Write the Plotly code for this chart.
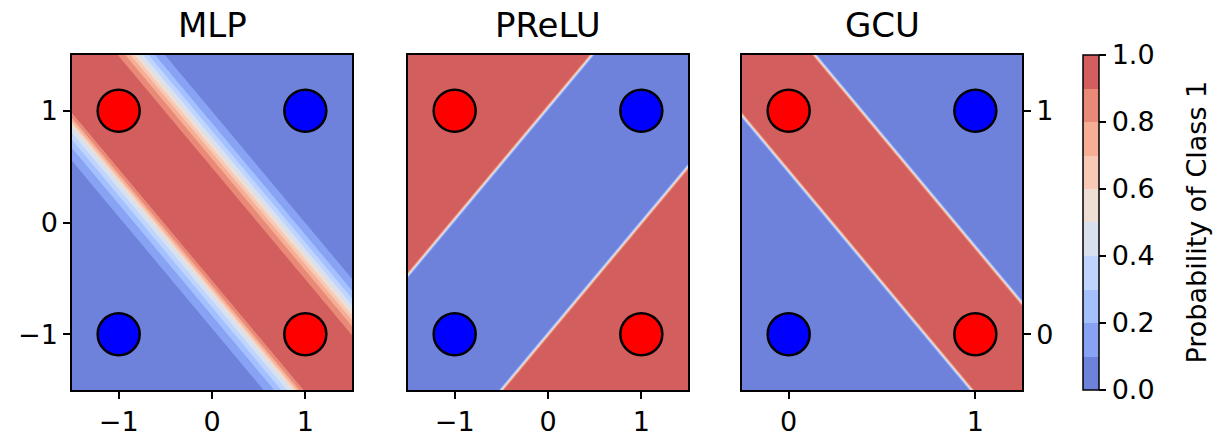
import numpy as np
import plotly.graph_objects as go

# ---------------- data ----------------
panel_titles = ["MLP", "PReLU", "GCU"]

# XOR points (symmetric inputs for MLP / PReLU, binary inputs for GCU)
pts_x_sym = [-1, 1, -1, 1]
pts_y_sym = [1, 1, -1, -1]
pts_x_bin = [0, 1, 0, 1]
pts_y_bin = [1, 1, 0, 0]
pts_class = [1, 0, 0, 1]
class_colors = {1: "#ff0000", 0: "#0000ff"}

# decision regions (edges of the class-1 regions)
mlp_band = [-0.64, 0.71]        # class 1 where x+y lies inside
mlp_soft_lower = [0.055, 0.14]  # (inside, outside) softness of lower edge
mlp_soft_upper = [0.10, 0.13]   # (inside, outside) softness of upper edge
prelu_edges = [1.03, -1.00]     # class 1 where y-x above first or below second
prelu_soft = 0.012
gcu_band = [0.73, 1.39]         # class 1 where x+y lies inside
gcu_soft = 0.006

axis_ranges = [[-1.5, 1.5], [-1.5, 1.5], [-0.25, 1.25]]
x_ticks = [[-1, 0, 1], [-1, 0, 1], [0, 1]]
y_ticks = [[-1, 0, 1], [], [0, 1]]

# coolwarm, 10 levels, alpha 0.8 over white
level_colors = ["#6e82db", "#88a3f3", "#a4c0fe", "#c0d5fd", "#d9e1ef",
                "#eeded4", "#f8cab5", "#f6ae95", "#e98a78", "#d25e5d"]
cbar_ticks = [0.0, 0.2, 0.4, 0.6, 0.8, 1.0]
cbar_title = "Probability of Class 1"

# ---------------- helpers ----------------
def sig(d, s_in, s_out):
    s = np.where(d > 0, s_in, s_out)
    return 1.0 / (1.0 + np.exp(-np.clip(d / s, -60, 60)))

def grid(r, n=301):
    g = np.linspace(r[0], r[1], n)
    X, Y = np.meshgrid(g, g)
    return g, X, Y

fields = []
g, X, Y = grid(axis_ranges[0])
u = X + Y
p_lo = sig(u - mlp_band[0], *mlp_soft_lower)
p_hi = sig(mlp_band[1] - u, *mlp_soft_upper)
fields.append((g, np.minimum(p_lo, p_hi)))
g, X, Y = grid(axis_ranges[1])
v = Y - X
fields.append((g, sig(np.maximum(v - prelu_edges[0], prelu_edges[1] - v), prelu_soft, prelu_soft)))
g, X, Y = grid(axis_ranges[2])
u = X + Y
fields.append((g, sig(np.minimum(u - gcu_band[0], gcu_band[1] - u), gcu_soft, gcu_soft)))

# colorscale for plotly contour fill (band k sampled at (k+1)/11)
cs_contour = [[0, level_colors[0]]]
for k, c in enumerate(level_colors):
    cs_contour.append([(k + 0.5) / 11, c])
    cs_contour.append([(k + 1.5) / 11 if k < 9 else 1.0, c])
cs_bar = []
for k, c in enumerate(level_colors):
    cs_bar.append([k / 10, c])
    cs_bar.append([(k + 1) / 10, c])

W, H = 1217, 437
x_dom = [[72 / W, 352 / W], [408 / W, 688 / W], [742 / W, 1022 / W]]
y_dom = [1 - 390 / H, 1 - 55 / H]
FONT = "DejaVu Sans"

fig = go.Figure()
for i in range(3):
    xa = "x" if i == 0 else f"x{i+1}"
    ya = "y" if i == 0 else f"y{i+1}"
    g, Z = fields[i]
    fig.add_trace(go.Contour(
        x=g, y=g, z=Z, xaxis=xa, yaxis=ya,
        autocontour=False,
        contours=dict(start=0, end=1, size=0.1, coloring="fill", showlines=False),
        line=dict(width=0),
        colorscale=cs_contour, showscale=False, hoverinfo="skip"))
    px = pts_x_bin if i == 2 else pts_x_sym
    py = pts_y_bin if i == 2 else pts_y_sym
    fig.add_trace(go.Scatter(
        x=px, y=py, xaxis=xa, yaxis=ya, mode="markers",
        marker=dict(size=42, color=[class_colors[c] for c in pts_class],
                    line=dict(color="black", width=2.5)),
        showlegend=False, hoverinfo="skip"))

# colorbar carrier
fig.add_trace(go.Scatter(
    x=[0], y=[0], mode="markers", showlegend=False, hoverinfo="skip",
    marker=dict(size=1, opacity=0, color=[0], cmin=0, cmax=1, colorscale=cs_bar,
                showscale=True,
                colorbar=dict(x=1083 / W, xanchor="left", y=(y_dom[0] + y_dom[1]) / 2,
                              yanchor="middle", thickness=16, lenmode="pixels", len=335,
                              xpad=0, ypad=0, outlinewidth=1.5, outlinecolor="black",
                              ticks="outside", ticklen=7, tickwidth=1.5, tickcolor="black",
                              tickvals=cbar_ticks, ticktext=[f"{t:.1f}" for t in cbar_ticks],
                              tickfont=dict(family=FONT, size=27, color="black")))))

layout = dict(width=W, height=H, margin=dict(l=0, r=0, t=0, b=0),
              paper_bgcolor="white", plot_bgcolor="white", showlegend=False)
annotations = []
for i in range(3):
    kx = "xaxis" if i == 0 else f"xaxis{i+1}"
    ky = "yaxis" if i == 0 else f"yaxis{i+1}"
    ya = "y" if i == 0 else f"y{i+1}"
    xa = "x" if i == 0 else f"x{i+1}"
    common = dict(showline=True, linecolor="black", linewidth=1.5, mirror=True,
                  showgrid=False, zeroline=False, ticks="outside", ticklen=7,
                  tickwidth=1.5, tickcolor="black",
                  tickfont=dict(family=FONT, size=27, color="black"))
    layout[kx] = dict(domain=x_dom[i], range=axis_ranges[i], anchor=ya,
                      tickvals=x_ticks[i], **common)
    yd = dict(domain=y_dom, range=axis_ranges[i], anchor=xa, tickvals=y_ticks[i], **common)
    if i == 1:
        yd["ticks"] = ""
        yd["showticklabels"] = False
    if i == 2:
        yd["side"] = "right"
    layout[ky] = yd
    annotations.append(dict(text=panel_titles[i], xref="paper", yref="paper",
                            x=(x_dom[i][0] + x_dom[i][1]) / 2, y=1 - 25 / H,
                            xanchor="center", yanchor="middle", showarrow=False,
                            font=dict(family=FONT, size=34, color="black")))
annotations.append(dict(text=cbar_title, xref="paper", yref="paper",
                        x=1196 / W, y=(y_dom[0] + y_dom[1]) / 2, textangle=-90,
                        xanchor="center", yanchor="middle", showarrow=False,
                        font=dict(family=FONT, size=27, color="black")))
layout["annotations"] = annotations
fig.update_layout(**layout)
fig.write_html("out.html", config={"displayModeBar": False},
               post_script="document.body.style.margin='0';document.body.style.overflow='hidden';")
